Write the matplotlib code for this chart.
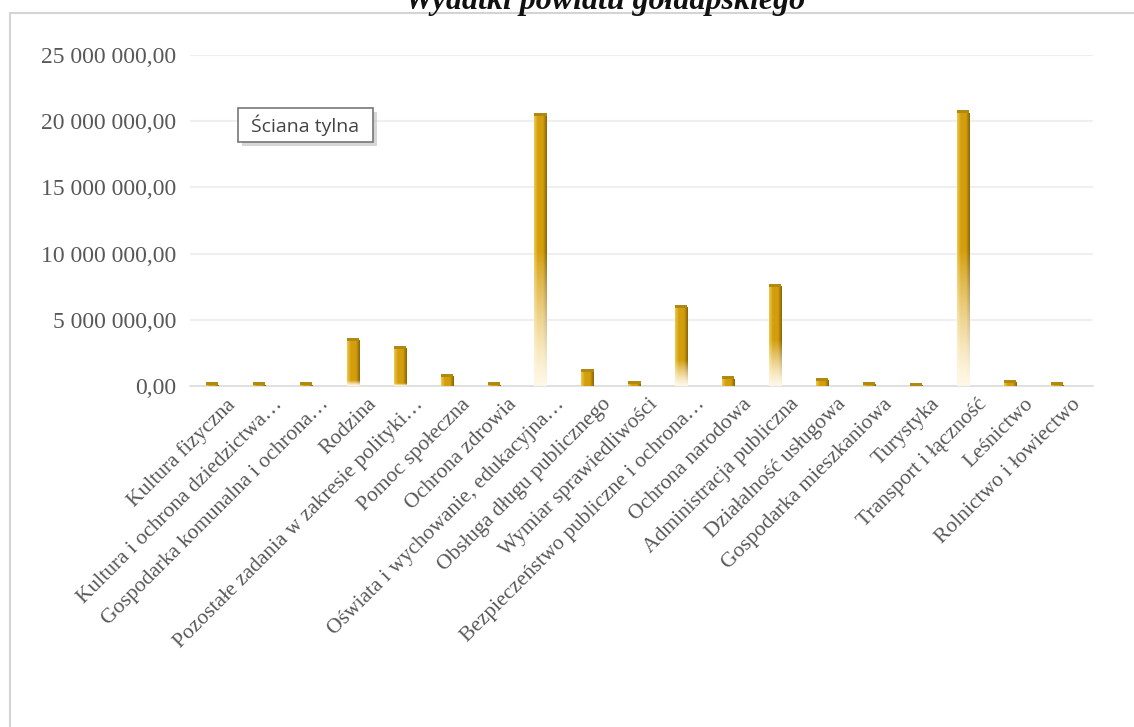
import numpy as np
import matplotlib
matplotlib.use("Agg")
from matplotlib import pyplot as plt
from matplotlib.patches import Rectangle
from matplotlib.ticker import FuncFormatter
import matplotlib.transforms as mtransforms

# Wydatki powiatu gołdapskiego wg działów
categories = [
    "Kultura fizyczna",
    "Kultura i ochrona dziedzictwa…",
    "Gospodarka komunalna i ochrona…",
    "Rodzina",
    "Pozostałe zadania w zakresie polityki…",
    "Pomoc społeczna",
    "Ochrona zdrowia",
    "Oświata i wychowanie, edukacyjna…",
    "Obsługa długu publicznego",
    "Wymiar sprawiedliwości",
    "Bezpieczeństwo publiczne i ochrona…",
    "Ochrona narodowa",
    "Administracja publiczna",
    "Działalność usługowa",
    "Gospodarka mieszkaniowa",
    "Turystyka",
    "Transport i łączność",
    "Leśnictwo",
    "Rolnictwo i łowiectwo",
]
values = [
    40000, 50000, 40000, 3400000, 2800000, 700000, 40000, 20400000,
    1050000, 120000, 5900000, 500000, 7500000, 400000, 100000,
    30000, 20600000, 250000, 60000,
]
y_ticks = [0, 5e6, 10e6, 15e6, 20e6, 25e6]

serif = "Liberation Serif"
gray = "#585858"

fig = plt.figure(figsize=(11.34, 7.27), dpi=100)
ax = fig.add_axes([190 / 1134, 1 - 386 / 727, (1093 - 190) / 1134, (386 - 55) / 727])

x = np.arange(len(categories))
bar_w = 0.26
ax.set_xlim(-0.47, 18.77)
ax.set_ylim(0, 25e6)

gold = np.array([0.83, 0.62, 0.05])
dark = np.array([0.55, 0.40, 0.03])
light = np.array([0.93, 0.78, 0.30])
pale = np.array([1.0, 0.97, 0.90])

# cylinder-like horizontal shading
cols = np.linspace(0, 1, 24)
row = np.zeros((24, 3))
for i, c in enumerate(cols):
    if c < 0.3:
        row[i] = light + (gold - light) * (c / 0.3)
    elif c < 0.7:
        row[i] = gold
    else:
        row[i] = gold + (dark - gold) * ((c - 0.7) / 0.3)

bars = ax.bar(x, values, width=bar_w, color="none", edgecolor="none", zorder=3)
for b, v in zip(bars, values):
    frac = 0.5 * np.clip((v - 2e6) / 6e6, 0, 1)
    t = np.linspace(0, 1, 120)[:, None]  # 0 = bottom, 1 = top
    if frac > 0:
        w = np.clip(t / frac, 0, 1) ** 1.3
    else:
        w = np.ones_like(t)
    img = pale[None, None, :] * (1 - w[:, :, None]) + row[None, :, :] * w[:, :, None]
    ax.imshow(img, extent=(b.get_x(), b.get_x() + bar_w, 0, v), origin="lower",
              aspect="auto", zorder=3, interpolation="bilinear")

# small 3D top caps so tiny bars stay visible
cap_h = 25e6 / 331 * 3
ax.bar(x, [cap_h] * len(x), width=bar_w, bottom=values, color="#b08a10",
       edgecolor="none", zorder=4)

ax.set_yticks(y_ticks)
ax.yaxis.set_major_formatter(FuncFormatter(
    lambda v, p: "{:,.2f}".format(v).replace(",", " ").replace(".", ",")))
ax.grid(axis="y", color="#efefef", linewidth=1.5, zorder=0)
ax.set_axisbelow(True)
for s in ["top", "right", "left"]:
    ax.spines[s].set_visible(False)
ax.spines["bottom"].set_color("#dcdcdc")
ax.spines["bottom"].set_linewidth(1.2)
ax.tick_params(axis="both", length=0, colors=gray)
ax.tick_params(axis="y", pad=10)
for lab in ax.get_yticklabels():
    lab.set_fontfamily(serif)
    lab.set_fontsize(17)

ax.set_xticks(x)
ax.set_xticklabels(categories, rotation=45, ha="right", va="top",
                   rotation_mode="anchor", fontfamily=serif, fontsize=15.5, color=gray)
offset = mtransforms.ScaledTranslation(14 / 100, -4 / 100, fig.dpi_scale_trans)
for lab in ax.get_xticklabels():
    lab.set_transform(lab.get_transform() + offset)

# chart frame
fig.add_artist(Rectangle((10 / 1134, -0.01), 1.1, 1 - 13 / 727 + 0.01,
                         transform=fig.transFigure, fill=False,
                         edgecolor="#d4d4d4", linewidth=1.5, zorder=0))

# title, cut off at the top edge as in the source screenshot
fig.text(605 / 1134, 1 - 2 / 727, "Wydatki powiatu gołdapskiego", ha="center",
         va="center", fontfamily=serif, fontsize=23, fontweight="bold",
         fontstyle="italic", color="#111111")

# tooltip
bx, by, bw, bh = 238 / 1134, 1 - 142 / 727, 135 / 1134, 34 / 727
fig.add_artist(Rectangle((bx + 4 / 1134, by - 4 / 727), bw, bh, transform=fig.transFigure,
                         facecolor="#bbbbbb", edgecolor="none", alpha=0.6, zorder=5))
fig.add_artist(Rectangle((bx, by), bw, bh, transform=fig.transFigure,
                         facecolor="white", edgecolor="#777777", linewidth=1.2, zorder=6))
fig.text(bx + bw / 2, by + bh / 2, "Ściana tylna", ha="center", va="center",
         fontfamily="Open Sans", fontsize=14, color="#444444", zorder=7)

fig.savefig("out.png", dpi=100)
